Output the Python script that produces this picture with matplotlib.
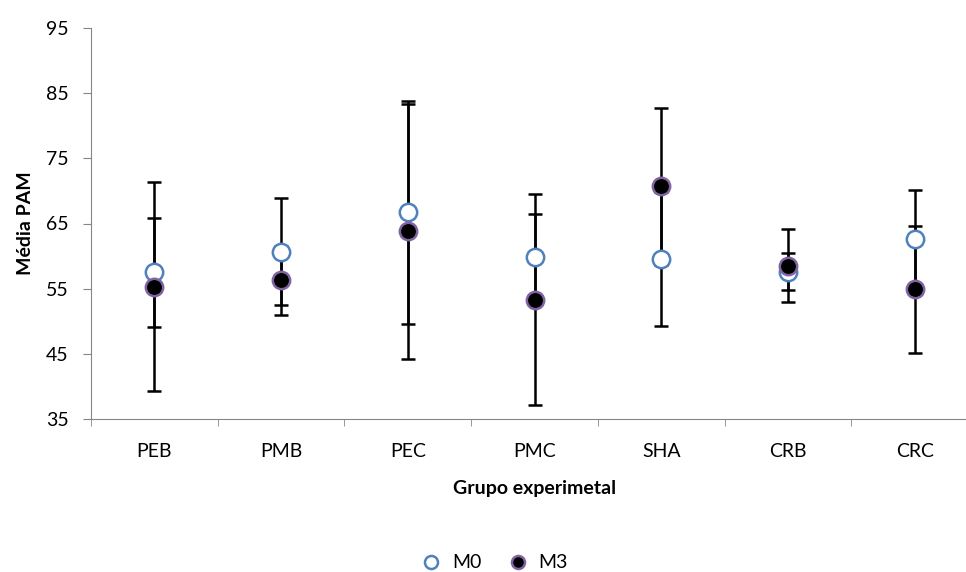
import matplotlib
matplotlib.use("Agg")
import matplotlib.pyplot as plt
import numpy as np

plt.rcParams["font.family"] = ["Lato", "DejaVu Sans"]

groups = ["PEB", "PMB", "PEC", "PMC", "SHA", "CRB", "CRC"]
m0_mean = [57.5, 60.7, 66.7, 59.8, 59.5, 57.6, 62.6]
m0_err = [8.4, 8.2, 17.1, 6.7, 10.3, 2.8, 7.6]
m3_mean = [55.3, 56.3, 63.8, 53.3, 70.7, 58.5, 54.9]
m3_err = [16.0, 5.3, 19.6, 16.2, 12.0, 5.6, 9.7]

fig = plt.figure(figsize=(9.66, 5.72), dpi=100)
# plot area runs slightly past the right edge, as in the original
ax = fig.add_axes([91 / 966, 1 - 419 / 572, 887 / 966, 391 / 572])

xs = np.arange(len(groups))
ax.errorbar(xs, m0_mean, yerr=m0_err, fmt="none", ecolor="black",
            elinewidth=1.8, capsize=5, capthick=1.8, zorder=2)
ax.errorbar(xs, m3_mean, yerr=m3_err, fmt="none", ecolor="black",
            elinewidth=1.8, capsize=5, capthick=1.8, zorder=2)
ax.plot(xs, m0_mean, "o", ms=12.5, mfc="white", mec="#4f81bd", mew=1.8,
        ls="none", label="M0", zorder=3)
ax.plot(xs, m3_mean, "o", ms=12.5, mfc="black", mec="#8064a2", mew=1.8,
        ls="none", label="M3", zorder=4)

ax.set_xlim(-0.5, len(groups) - 0.5)
ax.set_ylim(35, 95)
ax.set_yticks(np.arange(35, 96, 10))
ax.set_xticks(xs)
ax.set_xticklabels(groups)
ax.set_xticks(np.arange(-0.5, len(groups), 1), minor=True)
ax.tick_params(axis="x", which="major", length=0, labelsize=14, pad=17)
ax.tick_params(axis="x", which="minor", length=5, color="#868686")
ax.tick_params(axis="y", length=6, color="#868686", labelsize=14, pad=10)

for s in ["top", "right"]:
    ax.spines[s].set_visible(False)
for s in ["left", "bottom"]:
    ax.spines[s].set_color("#868686")

ax.set_ylabel("Média PAM", fontsize=14, fontweight="bold", labelpad=9)
ax.set_xlabel("Grupo experimetal", fontsize=14, fontweight="bold", labelpad=15)

leg = fig.legend(loc="center", bbox_to_anchor=(490 / 966, 1 - 563 / 572), ncol=2,
                 frameon=False, fontsize=14, handletextpad=0.05, columnspacing=0.9,
                 markerscale=0.75)

fig.savefig("out.png", dpi=100)
